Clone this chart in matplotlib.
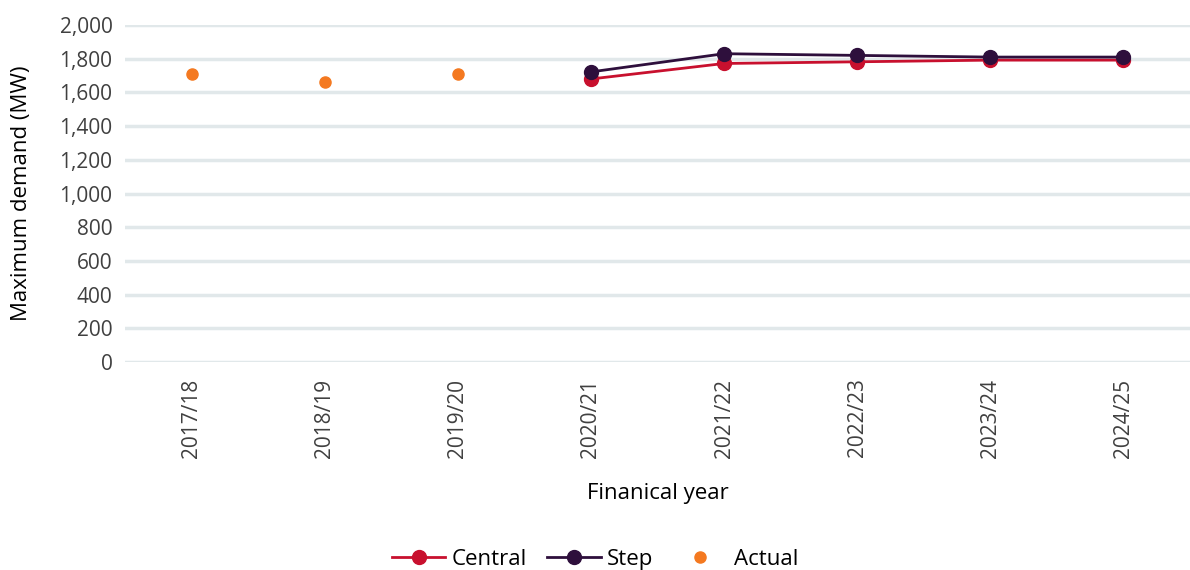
import matplotlib.pyplot as plt
from matplotlib.ticker import FuncFormatter

plt.rcParams['font.family'] = ['Open Sans', 'DejaVu Sans']

# Financial years and maximum demand (MW)
years = ['2017/18', '2018/19', '2019/20', '2020/21', '2021/22', '2022/23', '2023/24', '2024/25']
actual = [1710, 1665, 1710, None, None, None, None, None]
central = [None, None, None, 1680, 1772, 1782, 1792, 1792]
step = [None, None, None, 1722, 1830, 1820, 1810, 1810]

c_central = '#c8102e'
c_step = '#2e0f3c'
c_actual = '#f47920'

fig = plt.figure(figsize=(11.9, 5.7), dpi=100)
ax = fig.add_axes([0.105, 0.365, 0.895, 0.591])

x = list(range(len(years)))

def pts(vals):
    xs = [i for i, v in zip(x, vals) if v is not None]
    ys = [v for v in vals if v is not None]
    return xs, ys

xc, yc = pts(central)
xs, ys = pts(step)
xa, ya = pts(actual)

ax.plot(xc, yc, color=c_central, lw=2, marker='o', markersize=10, label='Central', zorder=3)
ax.plot(xs, ys, color=c_step, lw=2, marker='o', markersize=10, label='Step', zorder=4)
ax.plot(xa, ya, color=c_actual, lw=0, marker='o', markersize=8, label='Actual', zorder=3)

ax.set_xlim(-0.5, len(years) - 0.5)
ax.set_ylim(0, 2000)
ax.set_yticks(range(0, 2001, 200))
ax.yaxis.set_major_formatter(FuncFormatter(lambda v, p: f'{int(v):,}'))
ax.set_xticks(x)
ax.set_xticklabels(years, rotation=90)

ax.grid(axis='y', color='#e1e8ea', lw=2.5)
ax.set_axisbelow(True)
for s in ax.spines.values():
    s.set_visible(False)
ax.tick_params(length=0, labelsize=15, colors='#404040', pad=9)
ax.tick_params(axis='x', pad=12)

ax.set_xlabel('Finanical year', fontsize=16, color='black', labelpad=18)
ax.set_ylabel('Maximum demand (MW)', fontsize=16, color='black', labelpad=20)

fig.legend(loc='lower center', bbox_to_anchor=(0.5, -0.035), ncol=3, frameon=False,
           fontsize=16, handlelength=2.4, columnspacing=0.9, handletextpad=0.3)

fig.savefig('out.png', dpi=100)
